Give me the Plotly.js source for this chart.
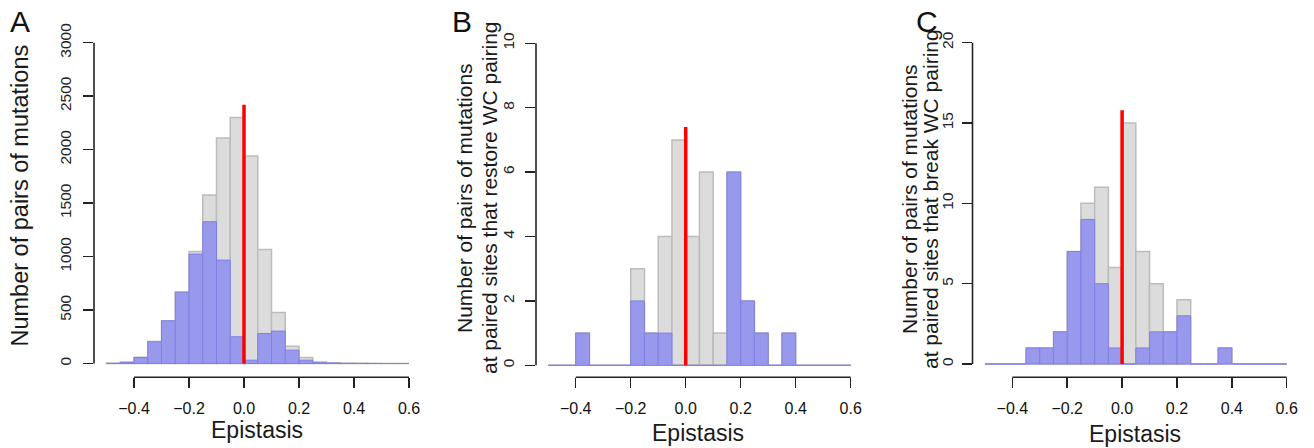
<!DOCTYPE html>
<html>
<head>
<meta charset="utf-8">
<script src="https://cdn.plot.ly/plotly-3.0.1.min.js"></script>
<style>
html,body{margin:0;padding:0;background:#fff;}
#chart{width:1314px;height:448px;}
</style>
</head>
<body>
<div id="chart"></div>
<script>
// ---- data ----
const binCenters = [-0.475,-0.425,-0.375,-0.325,-0.275,-0.225,-0.175,-0.125,-0.075,-0.025,
                    0.025,0.075,0.125,0.175,0.225,0.275,0.325,0.375,0.425,0.475,0.525,0.575];
const binWidth = 0.05;

// Panel A: all pairs of mutations
const allA  = [3,12,58,205,400,668,1048,1575,2110,2300,1940,1067,477,162,55,14,6,3,2,1,1,0];
const blueA = [2,12,56,203,399,667,1023,1326,967,250,31,281,303,125,31,8,4,2,1,1,0,0];
// Panel B: paired sites that restore WC pairing
const allB  = [0,0,1,0,0,0,3,1,4,7,4,6,1,6,2,1,0,1,0,0,0,0];
const blueB = [0,0,1,0,0,0,2,1,1,0,0,0,0,6,2,1,0,1,0,0,0,0];
// Panel C: paired sites that break WC pairing
const allC  = [0,0,0,1,1,2,7,10,11,6,15,7,5,2,4,0,0,1,0,0,0,0];
const blueC = [0,0,0,1,1,2,7,9,5,1,0,1,2,2,3,0,0,1,0,0,0,0];

const redLineX = 0;
const redLineTop = [2420, 7.4, 15.8];

const xTickVals = [-0.4,-0.2,0,0.2,0.4,0.6];
const yTicksA = [0,500,1000,1500,2000,2500,3000];
const yTicksB = [0,2,4,6,8,10];
const yTicksC = [0,5,10,15,20];

const letters = ["A","B","C"];
const yTitleA = ["Number of pairs of mutations"];
const yTitleB = ["Number of pairs of mutations","at paired sites that restore WC pairing"];
const yTitleC = ["Number of pairs of mutations","at paired sites that break WC pairing"];
const xTitle = "Epistasis";

// ---- layout geometry ----
const W = 1314, H = 448;
const FONT = "Liberation Sans, Arial, Helvetica, sans-serif";
const px = p => p / W;
const py = p => 1 - p / H;
const yDom = [py(377.3), py(38)];

const panels = [
  {all: allA, blue: blueA, yt: yTicksA, xdom:[94,412],   xr:[-0.5455,0.6109], yr:[-129.1,3044.1],
   titles: yTitleA, titleX:[19], titleSize:23.5, titleY:195.5, letterX:20, xTitleX:256.5, xTitleY:430, standoff:6},
  {all: allB, blue: blueB, yt: yTicksB, xdom:[536,854],  xr:[-0.5444,0.6120], yr:[-0.373,10.165],
   titles: yTitleB, titleX:[464,489], titleSize:21, titleY:198, letterX:462, xTitleX:698, xTitleY:433, standoff:5},
  {all: allC, blue: blueC, yt: yTicksC, xdom:[972.5,1290], xr:[-0.5452,0.6119], yr:[-0.828,20.29],
   titles: yTitleC, titleX:[909,930], titleSize:21, titleY:199, letterX:927, xTitleX:1134.5, xTitleY:434, standoff:2}
];

const traces = [];
const layout = {
  width: W, height: H,
  margin: {l:0, r:0, t:0, b:0},
  paper_bgcolor: "#fff", plot_bgcolor: "rgba(0,0,0,0)",
  showlegend: false,
  barmode: "overlay",
  font: {family: FONT, color: "#111"},
  shapes: [], annotations: []
};

panels.forEach((p, i) => {
  const n = i === 0 ? "" : String(i + 1);
  const xa = "x" + n, ya = "y" + n;
  traces.push({
    type: "bar", x: binCenters, y: p.all, width: binWidth,
    xaxis: xa, yaxis: ya,
    marker: {color: "#dcdcdc", line: {color: "#bcbcbc", width: 1.5}}
  });
  traces.push({
    type: "bar", x: binCenters, y: p.blue, width: binWidth,
    xaxis: xa, yaxis: ya,
    marker: {color: "rgb(152,152,236)", line: {color: "rgb(128,128,226)", width: 1}}
  });
  traces.push({
    type: "scatter", mode: "lines", x: [redLineX, redLineX], y: [0, redLineTop[i]],
    xaxis: xa, yaxis: ya,
    line: {color: "#ff0000", width: 3.5}
  });

  layout["xaxis" + n] = {
    domain: [px(p.xdom[0]), px(p.xdom[1])], range: p.xr, anchor: ya,
    showgrid: false, zeroline: false, showline: false,
    ticks: "outside", ticklen: 10, tickwidth: 1.5, tickcolor: "#222",
    tickvals: xTickVals, tickformat: ".1f",
    tickfont: {family: FONT, size: 16, color: "#111"},
    ticklabelstandoff: 6
  };
  layout["yaxis" + n] = {
    domain: yDom, range: p.yr, anchor: xa,
    showgrid: false, zeroline: false, showline: false,
    ticks: "outside", ticklen: 10, tickwidth: 1.5, tickcolor: "#222",
    tickvals: p.yt, tickangle: -90,
    tickfont: {family: FONT, size: 15.5, color: "#222"},
    ticklabelstandoff: p.standoff
  };
  // detached R-style axis lines
  layout.shapes.push({type: "line", xref: xa + " domain", yref: ya,
    x0: 0, x1: 0, y0: p.yt[0], y1: p.yt[p.yt.length - 1], line: {color: "#222", width: 1.6}});
  layout.shapes.push({type: "line", xref: xa, yref: ya + " domain",
    x0: xTickVals[0], x1: xTickVals[xTickVals.length - 1], y0: 0, y1: 0, line: {color: "#222", width: 1.6}});

  // panel letter
  layout.annotations.push({text: letters[i], xref: "paper", yref: "paper",
    x: px(p.letterX), y: py(21), xanchor: "center", yanchor: "middle", showarrow: false,
    font: {family: FONT, size: 30, color: "#111"}});
  // y titles
  p.titles.forEach((t, j) => {
    layout.annotations.push({text: t, xref: "paper", yref: "paper", textangle: -90,
      x: px(p.titleX[j]), y: py(p.titleY), xanchor: "center", yanchor: "middle", showarrow: false,
      font: {family: FONT, size: p.titleSize, color: "#1a1a1a"}});
  });
  // x title
  layout.annotations.push({text: xTitle, xref: "paper", yref: "paper",
    x: px(p.xTitleX), y: py(p.xTitleY), xanchor: "center", yanchor: "middle", showarrow: false,
    font: {family: FONT, size: 23, color: "#1a1a1a"}});
});

Plotly.newPlot("chart", traces, layout, {staticPlot: true, displayModeBar: false});
</script>
</body>
</html>
